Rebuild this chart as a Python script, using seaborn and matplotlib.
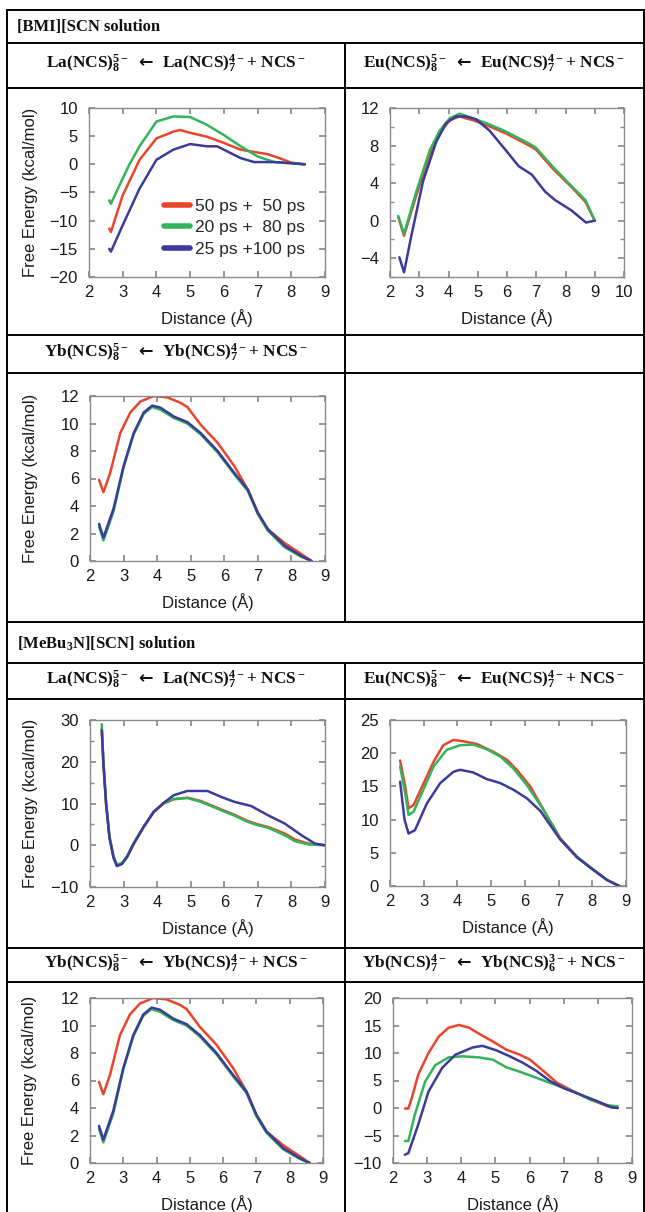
import matplotlib
matplotlib.use("Agg")
import matplotlib.pyplot as plt
from matplotlib.lines import Line2D
from matplotlib.ticker import MultipleLocator
import seaborn as sns
import pandas as pd

# ---- data ----
runs = ['50 ps +  50 ps', '20 ps +  80 ps', '25 ps +100 ps']
colors = {'50 ps +  50 ps': '#e8452c', '20 ps +  80 ps': '#33b35a', '25 ps +100 ps': '#3b3b9a'}

# [BMI][SCN] La
la_bmi_red_x = [2.6, 2.65, 3.0, 3.5, 4.0, 4.5, 4.7, 5.0, 5.5, 6.0, 6.5, 7.0, 7.3, 7.6, 8.0, 8.4]
la_bmi_red_y = [-11.4, -12.0, -5.5, 0.8, 4.6, 5.8, 6.1, 5.6, 4.9, 3.8, 2.6, 2.1, 1.8, 1.2, 0.3, 0.0]
la_bmi_grn_x = [2.6, 2.65, 3.0, 3.2, 3.5, 4.0, 4.5, 5.0, 5.5, 6.0, 6.5, 7.0, 7.5, 8.0, 8.4]
la_bmi_grn_y = [-6.4, -7.0, -2.5, 0.0, 3.2, 7.6, 8.5, 8.4, 7.0, 5.2, 3.2, 1.4, 0.4, 0.2, 0.0]
la_bmi_blu_x = [2.6, 2.65, 3.0, 3.5, 4.0, 4.5, 5.0, 5.5, 5.8, 6.0, 6.5, 6.9, 7.5, 8.0, 8.4]
la_bmi_blu_y = [-15.0, -15.5, -10.8, -4.3, 0.8, 2.6, 3.6, 3.2, 3.2, 2.6, 1.1, 0.4, 0.4, 0.2, 0.0]

# [BMI][SCN] Eu
eu_bmi_red_x = [2.28, 2.48, 2.9, 3.36, 3.7, 4.04, 4.38, 4.83, 5.28, 5.96, 6.64, 6.98, 7.55, 8.23, 8.68, 9.0]
eu_bmi_red_y = [0.4, -1.6, 2.7, 7.1, 9.3, 10.7, 11.1, 10.7, 10.2, 9.3, 8.2, 7.6, 5.6, 3.5, 2.0, 0.0]
eu_bmi_grn_x = [2.28, 2.48, 2.9, 3.36, 3.7, 4.04, 4.38, 4.83, 5.28, 5.96, 6.64, 6.98, 7.55, 8.23, 8.68, 9.0]
eu_bmi_grn_y = [0.5, -1.4, 3.1, 7.5, 9.6, 10.9, 11.4, 10.9, 10.4, 9.5, 8.4, 7.8, 5.8, 3.6, 2.2, 0.0]
eu_bmi_blu_x = [2.32, 2.48, 2.73, 3.13, 3.58, 3.92, 4.26, 4.6, 4.94, 5.4, 5.96, 6.4, 6.85, 7.3, 7.64, 8.2, 8.7, 9.0]
eu_bmi_blu_y = [-3.9, -5.5, -1.6, 4.2, 8.4, 10.4, 11.1, 11.1, 10.8, 9.6, 7.5, 5.8, 4.9, 3.1, 2.2, 1.1, -0.2, 0.0]

# Yb(NCS)8 (same curves in both solvents)
yb8_red_x = [2.27, 2.4, 2.6, 2.9, 3.2, 3.5, 3.9, 4.3, 4.7, 4.9, 5.3, 5.8, 6.3, 6.7, 7.0, 7.3, 7.8, 8.3, 8.6]
yb8_red_y = [5.9, 5.0, 6.4, 9.3, 10.8, 11.6, 12.0, 11.9, 11.5, 11.2, 9.9, 8.6, 6.9, 5.2, 3.5, 2.3, 1.3, 0.5, 0.0]
yb8_grn_x = [2.27, 2.4, 2.7, 3.0, 3.3, 3.6, 3.85, 4.1, 4.5, 4.9, 5.3, 5.8, 6.3, 6.7, 7.0, 7.3, 7.8, 8.3, 8.6]
yb8_grn_y = [2.5, 1.5, 3.6, 6.8, 9.2, 10.7, 11.2, 11.0, 10.4, 10.0, 9.2, 7.9, 6.3, 5.1, 3.4, 2.2, 1.0, 0.3, 0.0]
yb8_blu_x = [2.27, 2.4, 2.7, 3.0, 3.3, 3.6, 3.85, 4.1, 4.5, 4.9, 5.3, 5.8, 6.3, 6.7, 7.0, 7.3, 7.8, 8.3, 8.6]
yb8_blu_y = [2.7, 1.7, 3.8, 6.9, 9.3, 10.8, 11.3, 11.15, 10.5, 10.1, 9.3, 8.0, 6.4, 5.2, 3.5, 2.3, 1.1, 0.35, 0.0]

# [MeBu3N][SCN] La
la_meb_red_x = [2.35, 2.4, 2.48, 2.58, 2.7, 2.8, 2.95, 3.1, 3.3, 3.6, 3.9, 4.2, 4.5, 4.9, 5.3, 5.9, 6.3, 6.7, 7.0, 7.3, 7.8, 8.1, 8.5, 9.0]
la_meb_red_y = [28.0, 19.6, 10.0, 2.0, -2.8, -4.8, -4.4, -2.8, 0.4, 4.4, 8.0, 10.0, 11.0, 11.4, 10.6, 8.6, 7.3, 5.8, 5.0, 4.4, 2.8, 1.4, 0.4, 0.0]
la_meb_grn_x = [2.35, 2.4, 2.48, 2.58, 2.7, 2.8, 2.95, 3.1, 3.3, 3.6, 3.9, 4.2, 4.5, 4.9, 5.3, 5.9, 6.3, 6.7, 7.0, 7.3, 7.8, 8.1, 8.5, 9.0]
la_meb_grn_y = [29.0, 20.0, 10.2, 2.0, -2.6, -4.6, -4.3, -2.7, 0.5, 4.5, 8.1, 10.1, 11.1, 11.3, 10.4, 8.4, 7.1, 5.6, 4.8, 4.2, 2.4, 1.0, 0.2, 0.0]
la_meb_blu_x = [2.35, 2.4, 2.48, 2.58, 2.7, 2.8, 2.95, 3.1, 3.3, 3.6, 3.9, 4.2, 4.5, 4.9, 5.5, 5.9, 6.3, 6.8, 7.3, 7.8, 8.3, 8.7, 9.0]
la_meb_blu_y = [27.5, 19.4, 9.8, 1.8, -3.0, -5.0, -4.5, -2.9, 0.3, 4.4, 8.0, 10.2, 12.0, 13.0, 13.0, 11.6, 10.4, 9.4, 7.2, 5.2, 2.4, 0.4, 0.0]

# [MeBu3N][SCN] Eu
eu_meb_red_x = [2.3, 2.45, 2.55, 2.7, 2.99, 3.29, 3.58, 3.88, 4.18, 4.57, 5.07, 5.47, 5.76, 6.16, 6.55, 7.05, 7.55, 8.04, 8.44, 8.8]
eu_meb_red_y = [18.9, 15.0, 11.7, 12.2, 15.4, 18.7, 21.2, 22.0, 21.8, 21.4, 20.2, 19.0, 17.5, 15.0, 11.5, 7.2, 4.4, 2.4, 0.9, 0.0]
eu_meb_grn_x = [2.3, 2.45, 2.55, 2.7, 2.99, 3.29, 3.68, 4.08, 4.47, 4.87, 5.27, 5.66, 6.06, 6.55, 7.05, 7.55, 8.04, 8.44, 8.8]
eu_meb_grn_y = [18.0, 14.0, 10.7, 11.2, 14.5, 18.0, 20.5, 21.2, 21.3, 20.6, 19.5, 17.7, 15.2, 11.5, 7.1, 4.3, 2.4, 0.9, 0.0]
eu_meb_blu_x = [2.3, 2.43, 2.55, 2.74, 3.09, 3.49, 3.88, 4.08, 4.47, 4.87, 5.27, 5.66, 6.06, 6.46, 7.05, 7.55, 8.04, 8.44, 8.8]
eu_meb_blu_y = [15.7, 10.0, 7.9, 8.4, 12.4, 15.5, 17.2, 17.5, 17.1, 16.1, 15.5, 14.5, 13.2, 11.3, 7.0, 4.3, 2.4, 0.9, 0.0]

# [MeBu3N][SCN] Yb(NCS)7
yb7_red_x = [2.35, 2.45, 2.55, 2.74, 3.04, 3.34, 3.63, 3.93, 4.23, 4.52, 4.92, 5.32, 5.71, 6.01, 6.41, 6.8, 7.3, 7.79, 8.29, 8.58]
yb7_red_y = [-0.1, -0.1, 1.8, 6.1, 10.0, 13.0, 14.6, 15.1, 14.6, 13.5, 12.1, 10.6, 9.7, 8.8, 6.7, 4.6, 3.0, 1.5, 0.3, 0.0]
yb7_grn_x = [2.35, 2.45, 2.64, 2.94, 3.24, 3.63, 4.03, 4.52, 4.92, 5.32, 5.71, 6.11, 6.5, 6.9, 7.3, 7.79, 8.29, 8.58]
yb7_grn_y = [-6.0, -6.0, -1.2, 4.8, 7.8, 9.2, 9.4, 9.2, 8.8, 7.4, 6.6, 5.7, 4.8, 3.9, 3.0, 1.5, 0.5, 0.3]
yb7_blu_x = [2.35, 2.45, 2.74, 3.04, 3.44, 3.83, 4.33, 4.62, 5.02, 5.42, 5.81, 6.21, 6.6, 7.0, 7.5, 8.0, 8.4, 8.58]
yb7_blu_y = [-8.5, -8.2, -3.0, 3.0, 7.3, 9.7, 11.0, 11.3, 10.5, 9.4, 8.2, 6.7, 4.9, 3.6, 2.4, 1.2, 0.1, 0.0]

W, H = 645, 1212


def fx(x):
    return x / W


def fy(y):
    return 1 - y / H


def long_df(rx, ry, gx, gy, bx, by):
    parts = []
    for name, xs, ys in zip(runs, [rx, gx, bx], [ry, gy, by]):
        parts.append(pd.DataFrame({'Distance': xs, 'Energy': ys, 'run': name}))
    return pd.concat(parts, ignore_index=True)


sns.set_theme(style='ticks')
plt.rcParams['font.family'] = ['Liberation Sans', 'DejaVu Sans']
plt.rcParams['mathtext.fontset'] = 'custom'
plt.rcParams['mathtext.rm'] = 'Liberation Serif:bold'
plt.rcParams['mathtext.it'] = 'Liberation Serif:bold'
plt.rcParams['mathtext.bf'] = 'Liberation Serif:bold'
plt.rcParams['mathtext.sf'] = 'DejaVu Sans:bold'

fig = plt.figure(figsize=(W / 100, H / 100), dpi=100)

# ---- table grid ----
for y in [10, 43, 88, 335, 373, 622, 663, 699, 948, 982]:
    fig.add_artist(Line2D([fx(7), fx(644)], [fy(y), fy(y)], color='black', lw=1.4))
fig.add_artist(Line2D([fx(7), fx(7)], [fy(10), fy(1212)], color='black', lw=1.4))
fig.add_artist(Line2D([fx(644), fx(644)], [fy(10), fy(1212)], color='black', lw=1.4))
fig.add_artist(Line2D([fx(345), fx(345)], [fy(43), fy(622)], color='black', lw=1.4))
fig.add_artist(Line2D([fx(345), fx(345)], [fy(663), fy(1212)], color='black', lw=1.4))

serif = dict(family=['Liberation Serif', 'DejaVu Serif'], weight='bold', color='#111')
fig.text(fx(17), fy(27), '[BMI][SCN solution', ha='left', va='center', fontsize=12, **serif)
fig.text(fx(17), fy(644), '[MeBu$_3$N][SCN] solution', ha='left', va='center', fontsize=12, **serif)

arrow = r'  $\mathsf{←}$  '
headers = [
    (176, 64, 'La(NCS)$_8^{5-}$' + arrow + 'La(NCS)$_7^{4-}$+ NCS$^-$'),
    (494, 64, 'Eu(NCS)$_8^{5-}$' + arrow + 'Eu(NCS)$_7^{4-}$+ NCS$^-$'),
    (176, 353, 'Yb(NCS)$_8^{5-}$' + arrow + 'Yb(NCS)$_7^{4-}$+ NCS$^-$'),
    (176, 680, 'La(NCS)$_8^{5-}$' + arrow + 'La(NCS)$_7^{4-}$+ NCS$^-$'),
    (494, 680, 'Eu(NCS)$_8^{5-}$' + arrow + 'Eu(NCS)$_7^{4-}$+ NCS$^-$'),
    (176, 964, 'Yb(NCS)$_8^{5-}$' + arrow + 'Yb(NCS)$_7^{4-}$+ NCS$^-$'),
    (494, 964, 'Yb(NCS)$_7^{4-}$' + arrow + 'Yb(NCS)$_6^{3-}$+ NCS$^-$'),
]
for hx, hy, txt in headers:
    fig.text(fx(hx), fy(hy), txt, ha='center', va='center', fontsize=12.5, **serif)

# ---- panels: (x0, x1, y0, y1) in pixels, data, xlim, ylim, major, minor, ylabel, legend ----
panels = [
    ((89, 325, 108, 277), long_df(la_bmi_red_x, la_bmi_red_y, la_bmi_grn_x, la_bmi_grn_y, la_bmi_blu_x, la_bmi_blu_y),
     (2, 9), (-20, 10), 5, None, True, True),
    ((390, 624, 108, 277), long_df(eu_bmi_red_x, eu_bmi_red_y, eu_bmi_grn_x, eu_bmi_grn_y, eu_bmi_blu_x, eu_bmi_blu_y),
     (2, 10), (-6, 12), 4, 2, False, False),
    ((90, 325, 396, 561), long_df(yb8_red_x, yb8_red_y, yb8_grn_x, yb8_grn_y, yb8_blu_x, yb8_blu_y),
     (2, 9), (0, 12), 2, None, True, False),
    ((90, 325, 720, 887), long_df(la_meb_red_x, la_meb_red_y, la_meb_grn_x, la_meb_grn_y, la_meb_blu_x, la_meb_blu_y),
     (2, 9), (-10, 30), 10, 5, True, False),
    ((390, 626, 720, 886), long_df(eu_meb_red_x, eu_meb_red_y, eu_meb_grn_x, eu_meb_grn_y, eu_meb_blu_x, eu_meb_blu_y),
     (2, 9), (0, 25), 5, None, False, False),
    ((90, 323, 998, 1163), long_df(yb8_red_x, yb8_red_y, yb8_grn_x, yb8_grn_y, yb8_blu_x, yb8_blu_y),
     (2, 9), (0, 12), 2, None, True, False),
    ((393, 632, 998, 1163), long_df(yb7_red_x, yb7_red_y, yb7_grn_x, yb7_grn_y, yb7_blu_x, yb7_blu_y),
     (2, 9), (-10, 20), 5, None, False, False),
]

for (x0, x1, y0, y1), df, xlim, ylim, major, minor, ylab, leg in panels:
    ax = fig.add_axes([fx(x0), fy(y1), (x1 - x0) / W, (y1 - y0) / H])
    sns.lineplot(data=df, x='Distance', y='Energy', hue='run', palette=colors,
                 sort=False, estimator=None, lw=1.8, ax=ax, legend=leg)
    ax.set_xlim(*xlim)
    ax.set_ylim(*ylim)
    ax.xaxis.set_major_locator(MultipleLocator(1))
    ax.yaxis.set_major_locator(MultipleLocator(major))
    if minor:
        ax.yaxis.set_minor_locator(MultipleLocator(minor))
    for s in ax.spines.values():
        s.set_color('#8a8a8a')
        s.set_linewidth(1.0)
    ax.tick_params(which='both', direction='in', top=True, right=True, color='#8a8a8a',
                   labelsize=12, labelcolor='#1a1a1a')
    ax.tick_params(axis='x', pad=6)
    ax.tick_params(axis='y', pad=8)
    ax.tick_params(which='major', length=4)
    ax.tick_params(which='minor', length=3)
    ax.set_xlabel('Distance (Å)', fontsize=12, color='#1a1a1a', va='center')
    ax.xaxis.set_label_coords(0.5, -41 / (y1 - y0))
    if ylab:
        ax.set_ylabel('Free Energy (kcal/mol)', fontsize=12, color='#1a1a1a', va='center')
        ax.yaxis.set_label_coords((30 - x0) / (x1 - x0), 0.5)
    else:
        ax.set_ylabel('')
    if leg:
        lg = ax.legend(loc='upper left', bbox_to_anchor=((164 - x0) / (x1 - x0), (y1 - 199) / (y1 - y0)),
                       frameon=False, fontsize=12.5, handlelength=1.5, handletextpad=0.3,
                       labelspacing=0.35, borderpad=0, borderaxespad=0)
        for h in lg.legend_handles:
            h.set_linewidth(4)

fig.savefig('out.png', dpi=100)
